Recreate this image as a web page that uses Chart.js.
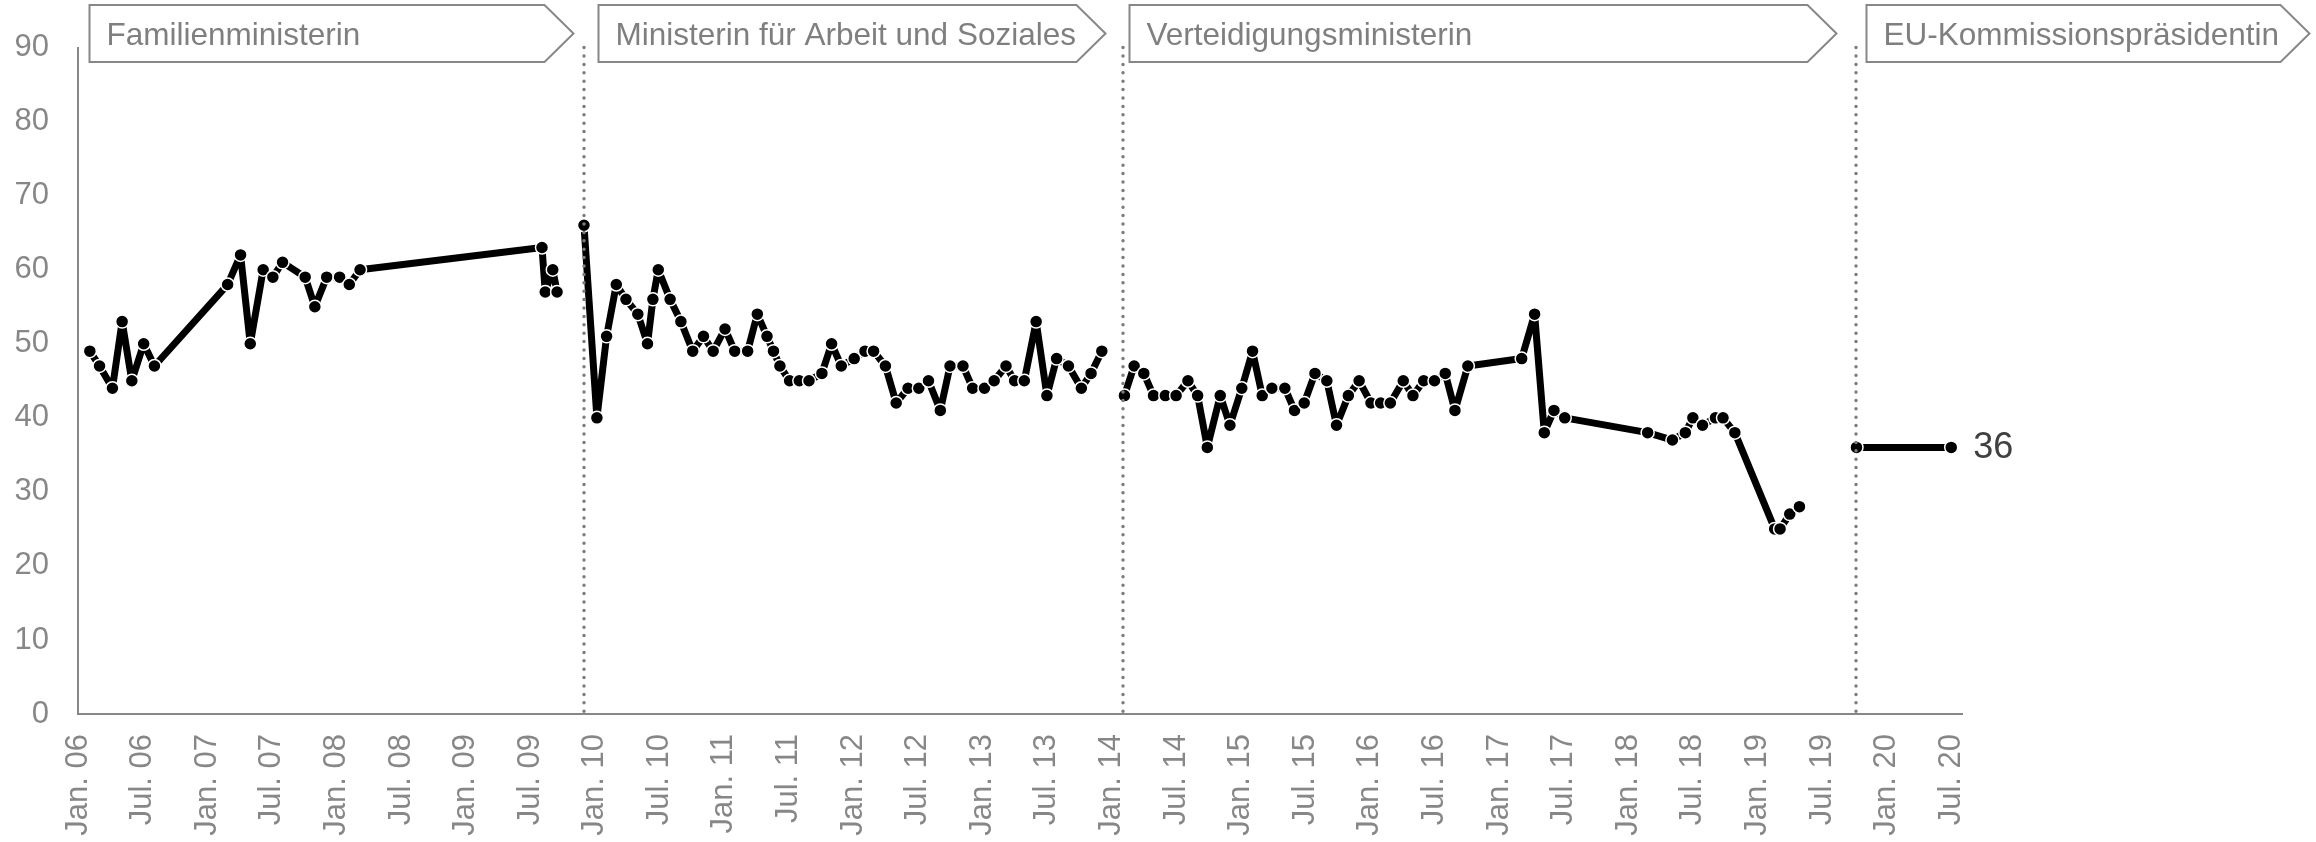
<!DOCTYPE html>
<html>
<head>
<meta charset="utf-8">
<script src="https://cdn.jsdelivr.net/npm/chart.js@4/dist/chart.umd.min.js"></script>
<style>
  html, body { margin: 0; padding: 0; background: #fff; }
</style>
</head>
<body>
<canvas id="chart" width="2316" height="842"></canvas>
<script>
// x values are months counted from Jan. 2006
const tickLabels = ['Jan. 06', 'Jul. 06', 'Jan. 07', 'Jul. 07', 'Jan. 08', 'Jul. 08', 'Jan. 09', 'Jul. 09',
  'Jan. 10', 'Jul. 10', 'Jan. 11', 'Jul. 11', 'Jan. 12', 'Jul. 12', 'Jan. 13', 'Jul. 13',
  'Jan. 14', 'Jul. 14', 'Jan. 15', 'Jul. 15', 'Jan. 16', 'Jul. 16', 'Jan. 17', 'Jul. 17',
  'Jan. 18', 'Jul. 18', 'Jan. 19', 'Jul. 19', 'Jan. 20', 'Jul. 20'];
const tickMonths = tickLabels.map((_, i) => i * 6);

const familyMonths = [1.1, 2.0, 3.2, 4.1, 5.0, 6.1, 7.1, 13.9, 15.1, 16.0, 17.2, 18.1, 19.0, 21.1, 22.0,
  23.1, 24.3, 25.2, 26.2, 43.1, 43.4, 44.1, 44.5];
const familyValues = [49, 47, 44, 53, 45, 50, 47, 58, 62, 50, 60, 59, 61, 59, 55,
  59, 59, 58, 60, 63, 57, 60, 57];

const labourMonths = [47.0, 48.2, 49.1, 50.0, 50.9, 52.0, 52.9, 53.4, 53.9, 55.0, 56.0, 57.1, 58.1, 59.0,
  60.1, 61.0, 62.2, 63.1, 64.0, 64.6, 65.2, 66.1, 67.0, 67.9, 69.1, 70.0, 70.9, 72.1, 73.1, 73.9, 75.0,
  76.0, 77.1, 78.1, 79.0, 80.1, 81.0, 82.2, 83.1, 84.2, 85.1, 86.2, 87.0, 87.9, 89.0, 90.0, 90.9, 92.0,
  93.2, 94.1, 95.1];
const labourValues = [66, 40, 51, 58, 56, 54, 50, 56, 60, 56, 53, 49, 51, 49,
  52, 49, 49, 54, 51, 49, 47, 45, 45, 45, 46, 50, 47, 48, 49, 49, 47,
  42, 44, 44, 45, 41, 47, 47, 44, 44, 45, 47, 45, 45, 53, 43, 48, 47,
  44, 46, 49];

const defenceMonths = [97.2, 98.1, 99.0, 99.9, 101.0, 102.0, 103.1, 104.0, 104.9, 106.1, 107.0, 108.1,
  109.1, 110.0, 110.9, 112.1, 113.0, 113.9, 114.9, 116.0, 116.9, 118.0, 119.0, 120.1, 121.0, 121.9,
  123.1, 124.0, 125.0, 126.0, 127.0, 127.9, 129.1, 134.1, 135.3, 136.2, 137.1, 138.1, 145.8, 148.1,
  149.3, 150.0, 150.9, 152.1, 152.8, 153.9, 157.6, 158.1, 159.0, 159.9];
const defenceValues = [43, 47, 46, 43, 43, 43, 45, 43, 36, 43, 39, 44,
  49, 43, 44, 44, 41, 42, 46, 45, 39, 43, 45, 42, 42, 42,
  45, 43, 45, 45, 46, 41, 47, 48, 54, 38, 41, 40, 38, 37,
  38, 40, 39, 40, 40, 38, 25, 25, 27, 28];

const euMonths = [165.2, 174.0];
const euValues = [36, 36];

// offices: where each one begins (dotted line) and the span of its header arrow
const officeLabels = ['Familienministerin', 'Ministerin für Arbeit und Soziales', 'Verteidigungsministerin', 'EU-Kommissionspräsidentin'];
const officeChanges = [47.0, 97.1, 165.2];
const officeBoxFrom = [1.0, 48.3, 97.6, 166.1];
const officeBoxTo = [46.0, 95.4, 163.3, 207.2];

const grey = '#878787';
const font = "'Liberation Sans', Arial, sans-serif";

function toPoints(months, values) {
  return months.map((m, i) => ({ x: m, y: values[i] }));
}

function lineSet(months, values) {
  return {
    data: toPoints(months, values),
    borderColor: '#000',
    borderWidth: 7,
    borderJoinStyle: 'round',
    pointRadius: 6.5,
    pointBackgroundColor: '#000',
    pointBorderColor: '#fff',
    pointBorderWidth: 1.5,
    tension: 0
  };
}

const decorations = {
  id: 'decorations',
  afterDatasetsDraw(chart) {
    const ctx = chart.ctx;
    const area = chart.chartArea;
    const x = chart.scales.x;
    const y = chart.scales.y;

    // dotted separators, on top of the line
    ctx.save();
    ctx.strokeStyle = '#7d7d7d';
    ctx.lineWidth = 3.5;
    ctx.lineCap = 'round';
    ctx.setLineDash([0, 8.4]);
    officeChanges.forEach(m => {
      const px = Math.round(x.getPixelForValue(m));
      ctx.beginPath();
      ctx.moveTo(px, area.top);
      ctx.lineTo(px, area.bottom);
      ctx.stroke();
    });
    ctx.restore();

    // header arrows
    const top = 5, bottom = 62, mid = (top + bottom) / 2, nose = 29;
    ctx.save();
    ctx.lineWidth = 2;
    ctx.strokeStyle = grey;
    ctx.fillStyle = '#fff';
    ctx.font = '31.5px ' + font;
    ctx.textBaseline = 'alphabetic';
    officeLabels.forEach((label, i) => {
      const x0 = Math.round(x.getPixelForValue(officeBoxFrom[i])) + 0.5;
      const x1 = Math.round(x.getPixelForValue(officeBoxTo[i])) + 0.5;
      ctx.beginPath();
      ctx.moveTo(x0, top);
      ctx.lineTo(x1 - nose, top);
      ctx.lineTo(x1, mid);
      ctx.lineTo(x1 - nose, bottom);
      ctx.lineTo(x0, bottom);
      ctx.closePath();
      ctx.fill();
      ctx.stroke();
      ctx.fillStyle = '#7f7f7f';
      ctx.fillText(label, x0 + 17, 45);
      ctx.fillStyle = '#fff';
    });
    ctx.restore();

    // value of the last point
    const last = euMonths.length - 1;
    ctx.save();
    ctx.fillStyle = '#404040';
    ctx.font = '36px ' + font;
    ctx.textBaseline = 'middle';
    ctx.fillText(String(euValues[last]), x.getPixelForValue(euMonths[last]) + 22, y.getPixelForValue(euValues[last]) + 1);
    ctx.restore();
  }
};

new Chart(document.getElementById('chart'), {
  type: 'line',
  data: {
    datasets: [
      lineSet(familyMonths, familyValues),
      lineSet(labourMonths, labourValues),
      lineSet(defenceMonths, defenceValues),
      lineSet(euMonths, euValues)
    ]
  },
  options: {
    responsive: false,
    animation: false,
    layout: { padding: { top: 44, right: 354, left: 0, bottom: 0 } },
    plugins: {
      legend: { display: false },
      tooltip: { enabled: false }
    },
    scales: {
      x: {
        type: 'linear',
        min: 0,
        max: 175,
        afterBuildTicks: s => { s.ticks = tickMonths.map(v => ({ value: v })); },
        afterFit: s => { s.height = 128; },
        grid: { display: false, drawTicks: false },
        border: { color: grey, width: 2 },
        ticks: {
          autoSkip: false,
          minRotation: 90,
          maxRotation: 90,
          padding: 20,
          color: grey,
          font: { family: font, size: 31 },
          callback: v => tickLabels[tickMonths.indexOf(v)]
        }
      },
      y: {
        min: 0,
        max: 90,
        afterFit: s => { s.width = 78; },
        grid: { display: false, drawTicks: false },
        border: { color: grey, width: 2 },
        ticks: {
          stepSize: 10,
          padding: 29,
          color: grey,
          font: { family: font, size: 31 }
        }
      }
    }
  },
  plugins: [decorations]
});
</script>
</body>
</html>
